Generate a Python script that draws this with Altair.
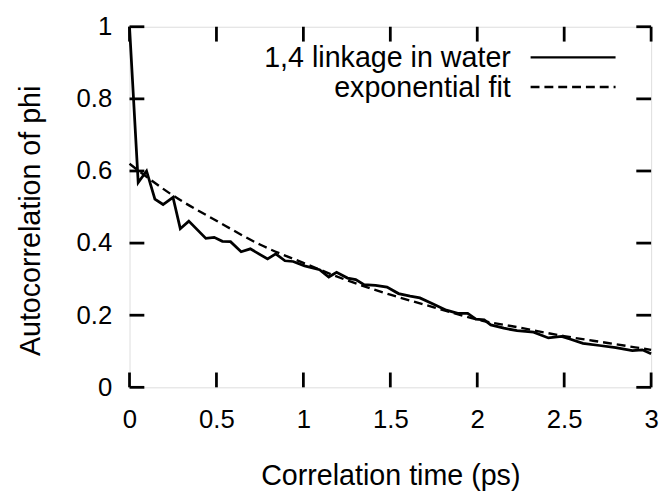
import altair as alt
import pandas as pd

# ---- data ----
sol_x = [0.0, 0.05, 0.098, 0.146, 0.193, 0.25, 0.292, 0.341, 0.439, 0.487, 0.534, 0.581,
         0.642, 0.695, 0.794, 0.841, 0.894, 0.941, 1.007, 1.093, 1.146, 1.191, 1.254,
         1.301, 1.349, 1.415, 1.481, 1.547, 1.614, 1.67, 1.737, 1.822, 1.888, 1.945,
         1.992, 2.04, 2.078, 2.153, 2.229, 2.324, 2.409, 2.485, 2.532, 2.608, 2.703,
         2.797, 2.892, 2.949, 3.0]
sol_y = [1.0, 0.568, 0.600, 0.522, 0.507, 0.527, 0.440, 0.461, 0.413, 0.416, 0.405, 0.404,
         0.376, 0.384, 0.356, 0.370, 0.351, 0.349, 0.337, 0.326, 0.306, 0.319, 0.303,
         0.299, 0.285, 0.283, 0.278, 0.260, 0.253, 0.248, 0.233, 0.214, 0.205, 0.205,
         0.189, 0.187, 0.173, 0.164, 0.157, 0.153, 0.137, 0.141, 0.134, 0.122, 0.116,
         0.110, 0.102, 0.104, 0.093]

fit_x = [0.0, 0.25, 0.5, 0.75, 1.0, 1.25, 1.5, 1.75, 2.0, 2.25, 2.5, 2.75, 3.0]
fit_y = [0.62, 0.532, 0.462, 0.396, 0.345, 0.297, 0.257, 0.222, 0.188, 0.165, 0.142, 0.123, 0.104]

x_ticks = [0, 0.5, 1, 1.5, 2, 2.5, 3]
y_ticks = [0, 0.2, 0.4, 0.6, 0.8, 1]
legend_labels = ["1,4 linkage in water", "exponential fit"]

W, H = 528, 365
FONT = "Liberation Sans"
TICK = 15
TXT = 29

sol = pd.DataFrame({"t": sol_x, "c": sol_y})
fit = pd.DataFrame({"t": fit_x, "c": fit_y})
xt = pd.DataFrame({"t": x_ticks})
yt = pd.DataFrame({"c": y_ticks})

xs = alt.Scale(domain=[0, 3], nice=False, zero=False)
ys = alt.Scale(domain=[0, 1], nice=False)

x_axis = alt.Axis(values=x_ticks, format="~g", title="Correlation time (ps)",
                  ticks=False, tickSize=0, domain=False, grid=False, labelFlush=False,
                  labelFont=FONT, labelFontSize=26, labelPadding=41,
                  labelBaseline="alphabetic", labelColor="black",
                  titleFont=FONT, titleFontSize=TXT, titleFontWeight="normal",
                  titleColor="black", titleX=W / 2, titleY=98,
                  titleBaseline="alphabetic", titleAlign="center")
y_axis = alt.Axis(values=y_ticks, format="~g", title="Autocorrelation of phi",
                  ticks=False, tickSize=0, domain=False, grid=False, labelFlush=False,
                  labelFont=FONT, labelFontSize=26, labelPadding=18,
                  labelBaseline="middle", labelColor="black",
                  titleFont=FONT, titleFontSize=TXT, titleFontWeight="normal",
                  titleColor="black", titleX=-91, titleY=196, titleAngle=270,
                  titleBaseline="alphabetic", titleAlign="center")

solid = alt.Chart(sol).mark_line(color="black", strokeWidth=2.8).encode(
    x=alt.X("t:Q", scale=xs, axis=x_axis),
    y=alt.Y("c:Q", scale=ys, axis=y_axis),
)
dashed = alt.Chart(fit).mark_line(color="black", strokeWidth=2.4, strokeDash=[9, 5],
                                  interpolate="monotone").encode(
    x=alt.X("t:Q", scale=xs),
    y=alt.Y("c:Q", scale=ys),
)

tick_style = dict(color="black", strokeWidth=2.8)
bottom_ticks = alt.Chart(xt).mark_rule(**tick_style).encode(
    x=alt.X("t:Q", scale=xs), y=alt.value(H), y2=alt.value(H - TICK))
top_ticks = alt.Chart(xt).mark_rule(**tick_style).encode(
    x=alt.X("t:Q", scale=xs), y=alt.value(0), y2=alt.value(TICK))
left_ticks = alt.Chart(yt).mark_rule(**tick_style).encode(
    y=alt.Y("c:Q", scale=ys), x=alt.value(0), x2=alt.value(TICK))
right_ticks = alt.Chart(yt).mark_rule(**tick_style).encode(
    y=alt.Y("c:Q", scale=ys), x=alt.value(W), x2=alt.value(W - TICK))

leg1_text = alt.Chart(pd.DataFrame({"label": [legend_labels[0]]})).mark_text(
    align="right", baseline="alphabetic", font=FONT, fontSize=TXT, color="black"
).encode(x=alt.value(386), y=alt.value(41), text="label:N")
leg2_text = alt.Chart(pd.DataFrame({"label": [legend_labels[1]]})).mark_text(
    align="right", baseline="alphabetic", font=FONT, fontSize=TXT, color="black"
).encode(x=alt.value(386), y=alt.value(71), text="label:N")
leg1_line = alt.Chart(pd.DataFrame({"label": [legend_labels[0]]})).mark_rule(
    color="black", strokeWidth=2.4
).encode(x=alt.value(406), x2=alt.value(492), y=alt.value(31))
leg2_line = alt.Chart(pd.DataFrame({"label": [legend_labels[1]]})).mark_rule(
    color="black", strokeWidth=2.4, strokeDash=[9, 5]
).encode(x=alt.value(406), x2=alt.value(492), y=alt.value(61))

chart = alt.layer(
    solid, dashed, bottom_ticks, top_ticks, left_ticks, right_ticks,
    leg1_text, leg2_text, leg1_line, leg2_line
).properties(
    width=W, height=H,
    autosize=alt.AutoSizeParams(type="none"),
    padding={"left": 123, "top": 16, "right": 10, "bottom": 105},
).configure_view(
    stroke="black", strokeWidth=3
).configure(
    background="white"
)

chart.save("out.html", embed_options={"renderer": "svg", "actions": False})
